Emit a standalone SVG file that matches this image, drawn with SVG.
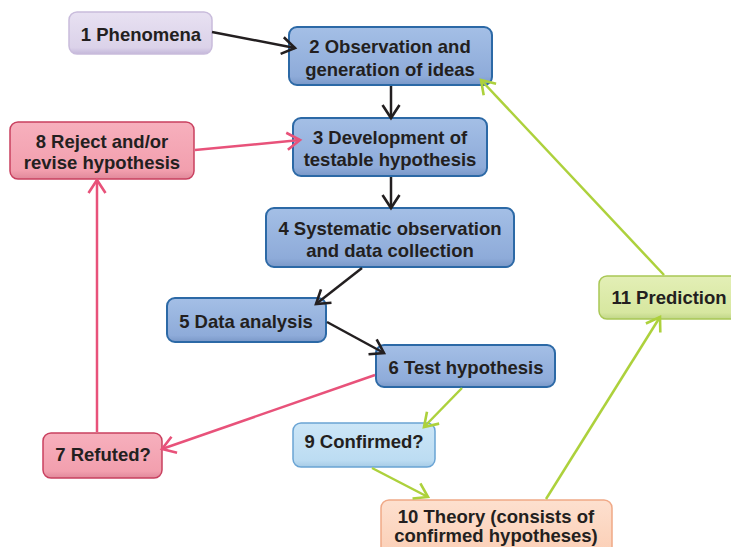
<svg xmlns="http://www.w3.org/2000/svg" width="731" height="547" viewBox="0 0 731 547">
<defs>
<linearGradient id="gBlue" x1="0" y1="0" x2="0" y2="1"><stop offset="0" stop-color="#a4bfe6"/><stop offset="0.85" stop-color="#8eabd9"/><stop offset="1" stop-color="#7a98c8"/></linearGradient>
<linearGradient id="gLav" x1="0" y1="0" x2="0" y2="1"><stop offset="0" stop-color="#e8e1f2"/><stop offset="0.85" stop-color="#dbd2e9"/><stop offset="1" stop-color="#c4b7da"/></linearGradient>
<linearGradient id="gPink" x1="0" y1="0" x2="0" y2="1"><stop offset="0" stop-color="#f7b0bd"/><stop offset="0.85" stop-color="#f29fae"/><stop offset="1" stop-color="#e0889a"/></linearGradient>
<linearGradient id="gLBlue" x1="0" y1="0" x2="0" y2="1"><stop offset="0" stop-color="#cce6f7"/><stop offset="0.85" stop-color="#bcdcf2"/><stop offset="1" stop-color="#a6cbe6"/></linearGradient>
<linearGradient id="gPeach" x1="0" y1="0" x2="0" y2="1"><stop offset="0" stop-color="#fde0cf"/><stop offset="1" stop-color="#fbcdb3"/></linearGradient>
<linearGradient id="gGreen" x1="0" y1="0" x2="0" y2="1"><stop offset="0" stop-color="#e3efb6"/><stop offset="0.85" stop-color="#d7e7a0"/><stop offset="1" stop-color="#c0d688"/></linearGradient>
<marker id="aBlack" viewBox="0 0 20 20" refX="16" refY="10" markerWidth="20" markerHeight="20" markerUnits="userSpaceOnUse" orient="auto"><path d="M3,1.5 L16,10 L3,18.5" fill="none" stroke="#231f20" stroke-width="2.6"/></marker>
<marker id="aPink" viewBox="0 0 20 20" refX="16" refY="10" markerWidth="20" markerHeight="20" markerUnits="userSpaceOnUse" orient="auto"><path d="M3,1.5 L16,10 L3,18.5" fill="none" stroke="#e8527a" stroke-width="2.6"/></marker>
<marker id="aGreen" viewBox="0 0 20 20" refX="16" refY="10" markerWidth="20" markerHeight="20" markerUnits="userSpaceOnUse" orient="auto"><path d="M3,1.5 L16,10 L3,18.5" fill="none" stroke="#add13c" stroke-width="2.6"/></marker>
</defs>
<style>
text{font-family:"Liberation Sans",Arial,sans-serif;font-weight:bold;font-size:18.5px;fill:#231f20;text-anchor:middle}
.blue{fill:url(#gBlue);stroke:#2c69a6;stroke-width:2}
.lav{fill:url(#gLav);stroke:#c9bcdc;stroke-width:1.5}
.pink{fill:url(#gPink);stroke:#c9405f;stroke-width:1.5}
.lblue{fill:url(#gLBlue);stroke:#6aa4d4;stroke-width:1.5}
.peach{fill:url(#gPeach);stroke:#f0a987;stroke-width:1.5}
.green{fill:url(#gGreen);stroke:#a9c755;stroke-width:1.5}
.c{fill:none;stroke-width:2.5}
.k{stroke:#231f20}
.p{stroke:#e8527a}
.g{stroke:#add13c}
</style>
<rect width="731" height="547" fill="#ffffff"/>
<g id="n1"><rect class="lav" x="69" y="12" width="143" height="42" rx="8"/><text x="141" y="41">1 Phenomena</text></g>
<g id="n2"><rect class="blue" x="289" y="27" width="203" height="58" rx="8"/><text x="390" y="53">2 Observation and</text><text x="390" y="76">generation of ideas</text></g>
<g id="n3"><rect class="blue" x="293" y="118" width="194" height="58" rx="8"/><text x="390" y="144">3 Development of</text><text x="390" y="166">testable hypothesis</text></g>
<g id="n8"><rect class="pink" x="10" y="122" width="184" height="57" rx="8"/><text x="102" y="148">8 Reject and/or</text><text x="102" y="169">revise hypothesis</text></g>
<g id="n4"><rect class="blue" x="266" y="208" width="248" height="59" rx="8"/><text x="390" y="235">4 Systematic observation</text><text x="390" y="257">and data collection</text></g>
<g id="n5"><rect class="blue" x="167" y="298" width="159" height="44" rx="8"/><text x="246" y="328">5 Data analysis</text></g>
<g id="n6"><rect class="blue" x="376" y="345" width="179" height="42" rx="8"/><text x="466" y="374">6 Test hypothesis</text></g>
<g id="n7"><rect class="pink" x="43" y="433" width="119" height="45" rx="8"/><text x="103" y="461">7 Refuted?</text></g>
<g id="n9"><rect class="lblue" x="293" y="423" width="142" height="44" rx="8"/><text x="364" y="448">9 Confirmed?</text></g>
<g id="n10"><rect class="peach" x="381" y="500" width="231" height="60" rx="8"/><text x="496" y="523">10 Theory (consists of</text><text x="496" y="542">confirmed hypotheses)</text></g>
<g id="n11"><rect class="green" x="599" y="276" width="140" height="43" rx="8"/><text x="669" y="304">11 Prediction</text></g>
<g id="connectors">
<line class="c k" x1="212" y1="32" x2="295" y2="48" marker-end="url(#aBlack)"/>
<line class="c k" x1="391" y1="86" x2="391" y2="118" marker-end="url(#aBlack)"/>
<line class="c k" x1="391" y1="177" x2="391" y2="208" marker-end="url(#aBlack)"/>
<line class="c k" x1="362" y1="268" x2="316" y2="304" marker-end="url(#aBlack)"/>
<line class="c k" x1="327" y1="322" x2="384" y2="353" marker-end="url(#aBlack)"/>
<line class="c p" x1="375" y1="375" x2="162" y2="449" marker-end="url(#aPink)"/>
<line class="c p" x1="97" y1="432" x2="97" y2="180" marker-end="url(#aPink)"/>
<line class="c p" x1="195" y1="150" x2="300" y2="140" marker-end="url(#aPink)"/>
<line class="c g" x1="462" y1="388" x2="424" y2="427" marker-end="url(#aGreen)"/>
<line class="c g" x1="372" y1="468" x2="428" y2="497" marker-end="url(#aGreen)"/>
<line class="c g" x1="546" y1="499" x2="660" y2="317" marker-end="url(#aGreen)"/>
<line class="c g" x1="664" y1="275" x2="481" y2="80" marker-end="url(#aGreen)"/>
</g>
</svg>
